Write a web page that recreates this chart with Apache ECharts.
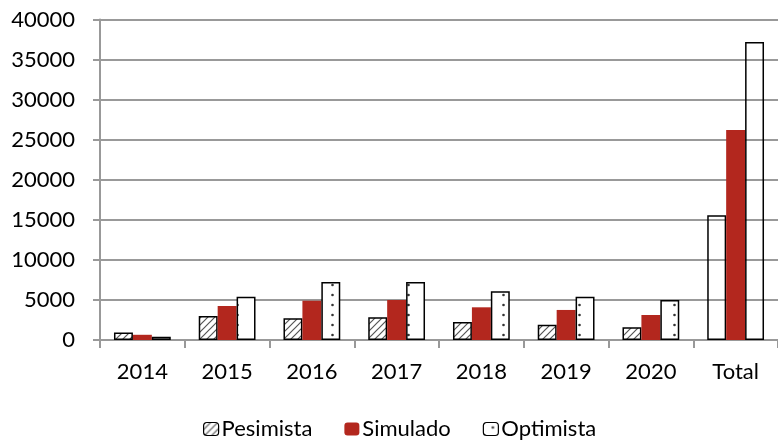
<!DOCTYPE html>
<html>
<head>
<meta charset="utf-8">
<script src="https://cdn.jsdelivr.net/npm/echarts@6/dist/echarts.min.js"></script>
<style>html,body{margin:0;padding:0;background:#fff}#c{width:778px;height:442px}</style>
</head>
<body>
<div id="c"></div>
<script>
var categories = ['2014', '2015', '2016', '2017', '2018', '2019', '2020', 'Total'];
var pesimista = [950, 3000, 2710, 2830, 2250, 1910, 1590, 15570];
var simulado = [650, 4240, 4900, 4990, 4080, 3750, 3120, 26220];
var optimista = [400, 5400, 7240, 7240, 6080, 5400, 4990, 37200];
var yTicks = [0, 5000, 10000, 15000, 20000, 25000, 30000, 35000, 40000];

function hatchPattern() {
  var c = document.createElement('canvas');
  c.width = 7; c.height = 7;
  var g = c.getContext('2d');
  g.fillStyle = '#fff'; g.fillRect(0, 0, 7, 7);
  g.strokeStyle = '#555'; g.lineWidth = 1.2;
  g.beginPath();
  g.moveTo(0, 7); g.lineTo(7, 0);
  g.moveTo(-3.5, 3.5); g.lineTo(3.5, -3.5);
  g.moveTo(3.5, 10.5); g.lineTo(10.5, 3.5);
  g.stroke();
  return c;
}
function dotPattern() {
  var c = document.createElement('canvas');
  c.width = 19; c.height = 10;
  var g = c.getContext('2d');
  g.fillStyle = '#fff'; g.fillRect(0, 0, 19, 10);
  g.fillStyle = '#333';
  g.beginPath(); g.arc(9.5, 5, 1.3, 0, Math.PI * 2); g.fill();
  return c;
}
var hatch = { image: hatchPattern(), repeat: 'repeat' };
var dots = { image: dotPattern(), repeat: 'repeat' };

function withTotalHollow(arr) {
  return arr.map(function (v, i) {
    if (categories[i] === 'Total') {
      return { value: v, itemStyle: { color: 'rgba(255,255,255,0)' } };
    }
    return v;
  });
}

var FONT = 'Lato';
var chart = echarts.init(document.getElementById('c'), null, { renderer: 'canvas' });
chart.setOption({
  animation: false,
  backgroundColor: '#fff',
  textStyle: { fontFamily: FONT, color: '#000' },
  grid: { left: 100, top: 19.5, width: 680, height: 320.5, containLabel: false },
  legend: {
    bottom: -3,
    left: 198,
    itemWidth: 15,
    itemHeight: 13,
    itemGap: 32,
    textStyle: { fontFamily: FONT, fontSize: 22, color: '#000', padding: [0, 0, 0, -2] },
    data: [
      { name: 'Pesimista', itemStyle: { color: hatch, borderColor: '#000', borderWidth: 1.2 } },
      { name: 'Simulado' },
      { name: 'Optimista', itemStyle: { color: dots, borderColor: '#000', borderWidth: 1.2 } }
    ]
  },
  xAxis: {
    type: 'category',
    data: categories,
    axisLine: { lineStyle: { color: '#999', width: 2 } },
    axisTick: { show: true, alignWithLabel: false, interval: 0, length: 8, lineStyle: { color: '#999', width: 2 } },
    axisLabel: { fontFamily: FONT, fontSize: 22, color: '#000', margin: 21, interval: 0 }
  },
  yAxis: {
    type: 'value',
    min: yTicks[0],
    max: yTicks[yTicks.length - 1],
    interval: yTicks[1] - yTicks[0],
    axisLine: { show: true, lineStyle: { color: '#999', width: 2 } },
    axisTick: { show: true, length: 7, lineStyle: { color: '#999', width: 2 } },
    splitLine: { lineStyle: { color: '#999', width: 2 } },
    axisLabel: { fontFamily: FONT, fontSize: 22, color: '#000', margin: 25, formatter: function (v) { return String(v); } }
  },
  series: [
    {
      name: 'Pesimista', type: 'bar', barGap: '0%', barCategoryGap: '33%',
      itemStyle: { color: hatch, borderColor: '#000', borderWidth: 1.5 },
      data: withTotalHollow(pesimista)
    },
    {
      name: 'Simulado', type: 'bar',
      itemStyle: { color: '#B3271E' },
      data: simulado
    },
    {
      name: 'Optimista', type: 'bar',
      itemStyle: { color: dots, borderColor: '#000', borderWidth: 1.5 },
      data: withTotalHollow(optimista)
    }
  ]
});
</script>
</body>
</html>
